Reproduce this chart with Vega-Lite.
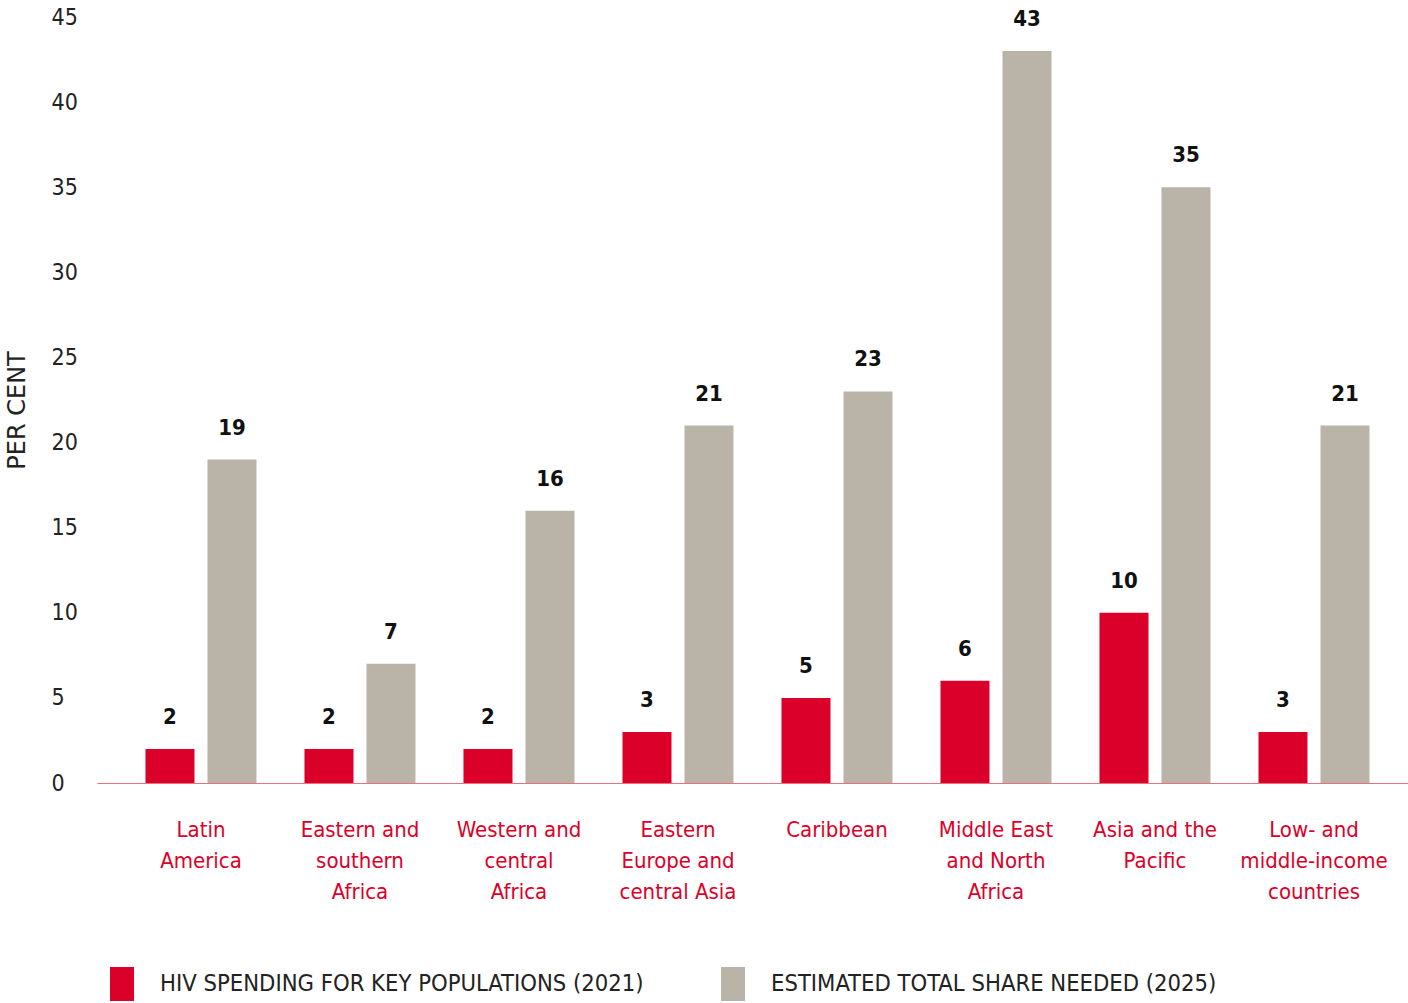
{
  "$schema": "https://vega.github.io/schema/vega-lite/v6.json",
  "width": 1311,
  "height": 766,
  "autosize": {"type": "none"},
  "padding": {"left": 97, "top": 17, "right": 0, "bottom": 220},
  "background": "white",
  "config": {
    "view": {"stroke": null},
    "font": "DejaVu Sans Condensed, Liberation Sans Narrow, sans-serif"
  },
  "data": {
    "values": [
      {"region": "Latin|America", "series": "HIV SPENDING FOR KEY POPULATIONS (2021)", "value": 2},
      {"region": "Latin|America", "series": "ESTIMATED TOTAL SHARE NEEDED (2025)", "value": 19},
      {"region": "Eastern and|southern|Africa", "series": "HIV SPENDING FOR KEY POPULATIONS (2021)", "value": 2},
      {"region": "Eastern and|southern|Africa", "series": "ESTIMATED TOTAL SHARE NEEDED (2025)", "value": 7},
      {"region": "Western and|central|Africa", "series": "HIV SPENDING FOR KEY POPULATIONS (2021)", "value": 2},
      {"region": "Western and|central|Africa", "series": "ESTIMATED TOTAL SHARE NEEDED (2025)", "value": 16},
      {"region": "Eastern|Europe and|central Asia", "series": "HIV SPENDING FOR KEY POPULATIONS (2021)", "value": 3},
      {"region": "Eastern|Europe and|central Asia", "series": "ESTIMATED TOTAL SHARE NEEDED (2025)", "value": 21},
      {"region": "Caribbean", "series": "HIV SPENDING FOR KEY POPULATIONS (2021)", "value": 5},
      {"region": "Caribbean", "series": "ESTIMATED TOTAL SHARE NEEDED (2025)", "value": 23},
      {"region": "Middle East|and North|Africa", "series": "HIV SPENDING FOR KEY POPULATIONS (2021)", "value": 6},
      {"region": "Middle East|and North|Africa", "series": "ESTIMATED TOTAL SHARE NEEDED (2025)", "value": 43},
      {"region": "Asia and the|Pacific", "series": "HIV SPENDING FOR KEY POPULATIONS (2021)", "value": 10},
      {"region": "Asia and the|Pacific", "series": "ESTIMATED TOTAL SHARE NEEDED (2025)", "value": 35},
      {"region": "Low- and|middle-income|countries", "series": "HIV SPENDING FOR KEY POPULATIONS (2021)", "value": 3},
      {"region": "Low- and|middle-income|countries", "series": "ESTIMATED TOTAL SHARE NEEDED (2025)", "value": 21}
    ]
  },
  "encoding": {
    "x": {
      "field": "region",
      "type": "nominal",
      "sort": null,
      "scale": {"paddingInner": 0, "paddingOuter": 0.1226, "align": 0.628},
      "axis": {
        "title": null,
        "labelAngle": 0,
        "labelExpr": "split(datum.value, '|')",
        "labelColor": "#DB0029",
        "labelFontSize": 22,
        "labelLineHeight": 31,
        "labelBaseline": "top",
        "labelPadding": 36,
        "labelLimit": 0,
        "ticks": false,
        "domainColor": "#E8707F",
        "domainWidth": 1.2,
        "grid": false
      }
    },
    "xOffset": {
      "field": "series",
      "type": "nominal",
      "sort": null,
      "scale": {"paddingInner": 0.2097, "paddingOuter": 0.387}
    },
    "y": {
      "field": "value",
      "type": "quantitative",
      "scale": {"domain": [0, 45], "nice": false},
      "axis": {
        "title": "PER CENT",
        "values": [0, 5, 10, 15, 20, 25, 30, 35, 40, 45],
        "grid": false,
        "ticks": false,
        "domain": false,
        "labelAlign": "left",
        "labelPadding": 46,
        "labelFontSize": 23,
        "labelColor": "#222222",
        "titleFont": "DejaVu Sans, sans-serif",
        "titleFontSize": 24,
        "titleFontWeight": "normal",
        "titleColor": "#222222",
        "titleX": -80,
        "titleY": 393,
        "titleAlign": "center",
        "titleBaseline": "middle",
        "titleAngle": -90
      }
    }
  },
  "layer": [
    {
      "mark": {"type": "bar"},
      "encoding": {
        "color": {
          "field": "series",
          "type": "nominal",
          "scale": {
            "domain": ["HIV SPENDING FOR KEY POPULATIONS (2021)", "ESTIMATED TOTAL SHARE NEEDED (2025)"],
            "range": ["#DB0029", "#BAB3A7"]
          },
          "legend": {
            "title": null,
            "orient": "none",
            "legendX": 8,
            "legendY": 950,
            "padding": 0,
            "direction": "horizontal",
            "symbolType": "M-0.706,-1H0.706V1H-0.706Z",
            "symbolSize": 1156,
            "symbolStrokeWidth": 0,
            "symbolOpacity": 1,
            "labelFontSize": 23.6,
            "labelColor": "#222222",
            "labelLimit": 0,
            "labelOffset": 21,
            "columnPadding": 72
          }
        }
      }
    },
    {
      "mark": {"type": "text", "dy": -25, "baseline": "alphabetic", "fontWeight": "bold", "fontSize": 22, "color": "#111111"},
      "encoding": {"text": {"field": "value", "type": "quantitative"}}
    }
  ]
}
